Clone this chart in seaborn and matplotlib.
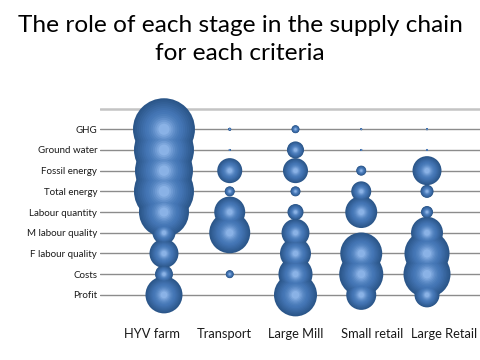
import numpy as np
import pandas as pd
import matplotlib
matplotlib.use("Agg")
import matplotlib.pyplot as plt
import seaborn as sns
from matplotlib.colors import to_rgb

stages = ["HYV farm", "Transport", "Large Mill", "Small retail", "Large Retail"]
criteria = ["GHG", "Ground water", "Fossil energy", "Total energy", "Labour quantity",
            "M labour quality", "F labour quality", "Costs", "Profit"]

# relative share of each stage (bubble area)
hyv_farm = [38.4, 36.0, 33.6, 36.0, 25.0, 5.3, 8.4, 3.2, 13.7]
transport = [0.09, 0.04, 6.25, 1.0, 9.6, 16.8, 0.0, 0.64, 0.0]
large_mill = [0.64, 2.9, 6.25, 1.0, 2.56, 7.8, 9.6, 11.6, 18.5]
small_retail = [0.04, 0.04, 1.0, 4.0, 10.2, 0.0, 17.6, 19.4, 9.0]
large_retail = [0.04, 0.04, 8.4, 1.7, 1.44, 10.2, 20.3, 22.1, 6.25]

title = "The role of each stage in the supply chain\nfor each criteria"

series = [hyv_farm, transport, large_mill, small_retail, large_retail]
rows = []
for si, (st, vals) in enumerate(zip(stages, series)):
    for ci, (cr, v) in enumerate(zip(criteria, vals)):
        rows.append({"stage": st, "xpos": si, "criterion": cr, "ypos": ci, "value": v})
df = pd.DataFrame(rows)
df = df[df["value"] > 0]

sns.set_style("white")
plt.rcParams["font.family"] = ["Lato", "DejaVu Sans"]

fig = plt.figure(figsize=(4.8, 3.6), dpi=100)
ax = fig.add_axes([100 / 480, 44 / 360, 380 / 480, 211 / 360])

vmax = max(max(s) for s in series)
smax = 51.84 * vmax

rim = np.array(to_rgb("#2B5689"))
mid = np.array(to_rgb("#4577B6"))
hi = np.array(to_rgb("#8AB2E6"))
n = 14
for i in range(n):
    t = i / (n - 1)
    f = 1.0 - 0.82 * t
    if t < 0.5:
        c = rim + (mid - rim) * (t / 0.5)
    else:
        c = mid + (hi - mid) * ((t - 0.5) / 0.5) ** 1.5
    sns.scatterplot(data=df, x="xpos", y="ypos", size="value",
                    sizes=(0, smax * f * f), size_norm=(0, vmax),
                    color=tuple(c), edgecolor="none", linewidth=0,
                    legend=False, ax=ax, clip_on=False, zorder=3 + i)

ax.set_xlim(-0.973, 4.806)
ax.set_ylim(9.02, -1.17)
ax.set_yticks(range(len(criteria)), criteria)
# category labels sit slightly apart from the bubble columns, as in the original
ax.set_xticks([-0.18, 0.91, 2.01, 3.16, 4.26], stages)
ax.grid(axis="y", color="#8c8c8c", linewidth=1.0)
ax.grid(axis="x", visible=False)
ax.axhline(-1, color="#c4c4c4", linewidth=1.8, zorder=1)
for s in ax.spines.values():
    s.set_visible(False)
ax.set_xlabel("")
ax.set_ylabel("")
ax.tick_params(axis="y", length=0, pad=2, labelsize=7, labelcolor="#1a1a1a")
ax.tick_params(axis="x", length=0, pad=9, labelsize=9.3, labelcolor="#1a1a1a")

fig.text(0.5, 0.958, title, ha="center", va="top", fontsize=17.6,
         linespacing=1.42, color="black")

fig.savefig("out.png", dpi=100)
